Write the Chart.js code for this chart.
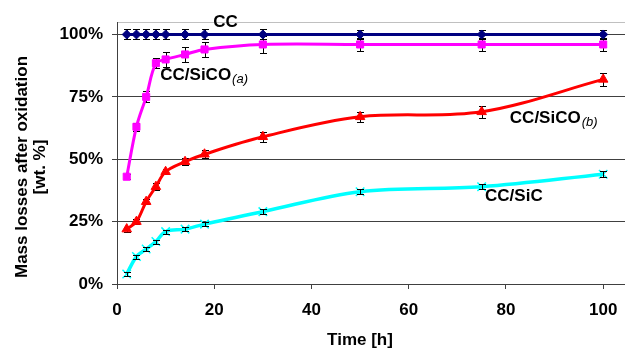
<!DOCTYPE html>
<html>
<head>
<meta charset="utf-8">
<script src="https://cdn.jsdelivr.net/npm/chart.js@4.4.1/dist/chart.umd.min.js"></script>
<style>
html,body{margin:0;padding:0;background:#fff;overflow:hidden;}
#wrap{position:absolute;left:0;top:0;width:635px;height:350px;}
</style>
</head>
<body>
<div id="wrap"><canvas id="c" width="635" height="350"></canvas></div>
<script>
// ---- data ----
const timeH = [2, 4, 6, 8, 10, 14, 18, 30, 50, 75, 100];
const xTicks = [0, 20, 40, 60, 80, 100];
const yTicks = [0, 25, 50, 75, 100];

const ccVals   = [100, 100, 100, 100, 100, 100, 100, 100, 100, 100, 100];
const ccErr    = [2, 2, 2, 2, 2, 2, 2, 2, 1.8, 1.8, 1.8];

const sicoAVals = [43, 63, 75, 88.5, 90, 92, 94, 96, 96, 96, 96];
const sicoAErr  = [1, 1.5, 2.2, 2, 2.9, 2.9, 3, 3.3, 2.5, 2.6, 2.6];

const sicoBVals = [22, 25, 33, 39, 45, 49, 52, 59, 67, 69, 82];
const sicoBErr  = [1, 1, 1.1, 1.3, 1.1, 1.3, 1.7, 2, 2.1, 2.3, 2.5];

const sicVals = [4, 11, 14, 17, 21, 22, 24, 29, 37, 39, 44];
const sicErr  = [0.8, 0.8, 0.8, 0.8, 0.8, 0.8, 0.8, 1, 1, 1, 1.2];

const seriesNames = ['CC', 'CC/SiCO', 'CC/SiCO', 'CC/SiC'];
const seriesSubs  = ['', '(a)', '(b)', ''];
// label anchor (data units: time, percent) for in-plot series labels
const labelAt = [[19.8, 103], [8.9, 81.8], [80.8, 64.4], [75.7, 33.4]];

const yTitle = ['Mass losses after oxidation', '[wt. %]'];
const xTitle = 'Time [h]';

const toXY = (xs, ys) => xs.map((x, i) => ({x: x, y: ys[i]}));
const errs = [ccErr, sicoAErr, sicoBErr, sicErr];

const FONT = '"Liberation Sans", Arial, sans-serif';

const errorBars = {
  id: 'errorBars',
  drawBars(chart, which) {
    const ctx = chart.ctx, xs = chart.scales.x, ys = chart.scales.y;
    ctx.save();
    ctx.strokeStyle = '#000';
    ctx.lineWidth = 1;
    chart.data.datasets.forEach((ds, di) => {
      if (!which(di)) return;
      ds.data.forEach((p, i) => {
        const e = errs[di][i];
        const px = Math.round(xs.getPixelForValue(p.x)) + 0.5;
        const y1 = Math.round(ys.getPixelForValue(p.y + e)) + 0.5;
        const y2 = Math.round(ys.getPixelForValue(p.y - e)) + 0.5;
        ctx.beginPath();
        ctx.moveTo(px, y1); ctx.lineTo(px, y2);
        ctx.moveTo(px - 3.5, y1); ctx.lineTo(px + 3.5, y1);
        ctx.moveTo(px - 3.5, y2); ctx.lineTo(px + 3.5, y2);
        ctx.stroke();
      });
    });
    ctx.restore();
  },
  beforeDatasetsDraw(chart) { this.drawBars(chart, di => di !== 3); },
  afterDatasetsDraw(chart) { this.drawBars(chart, di => di === 3); }
};

const textPlugin = {
  id: 'texts',
  afterDraw(chart) {
    const ctx = chart.ctx, xs = chart.scales.x, ys = chart.scales.y;
    ctx.save();
    ctx.fillStyle = '#000';
    // series labels
    seriesNames.forEach((name, i) => {
      const x = xs.getPixelForValue(labelAt[i][0]);
      const y = ys.getPixelForValue(labelAt[i][1]);
      ctx.font = 'bold 17px ' + FONT;
      ctx.textAlign = 'left';
      ctx.textBaseline = 'alphabetic';
      ctx.fillText(name, x, y);
      if (seriesSubs[i]) {
        const w = ctx.measureText(name).width;
        ctx.font = 'italic 13px ' + FONT;
        ctx.fillText(seriesSubs[i], x + w + 1, y + 3);
      }
    });
    // axis titles
    ctx.font = 'bold 17px ' + FONT;
    ctx.textAlign = 'center';
    ctx.textBaseline = 'middle';
    ctx.fillText(xTitle, 360, 340);
    ctx.translate(0, 167);
    ctx.rotate(-Math.PI / 2);
    ctx.fillText(yTitle[0], 0, 22);
    ctx.fillText(yTitle[1], 0, 40);
    ctx.restore();
  }
};

new Chart(document.getElementById('c'), {
  type: 'line',
  data: {
    datasets: [
      {
        label: 'CC', data: toXY(timeH, ccVals),
        borderColor: '#000080', backgroundColor: '#000080', borderWidth: 3,
        pointStyle: 'rectRot', pointRadius: 4.5, pointBorderWidth: 1,
        pointBackgroundColor: '#000080', pointBorderColor: '#000080', tension: 0.35
      },
      {
        label: 'CC/SiCO(a)', data: toXY(timeH, sicoAVals),
        borderColor: '#ff00ff', backgroundColor: '#ff00ff', borderWidth: 3,
        pointStyle: 'rect', pointRadius: 5, pointBorderWidth: 1,
        pointBackgroundColor: '#ff00ff', pointBorderColor: '#ff00ff', tension: 0.35
      },
      {
        label: 'CC/SiCO(b)', data: toXY(timeH, sicoBVals),
        borderColor: '#ff0000', backgroundColor: '#ff0000', borderWidth: 3,
        pointStyle: 'triangle', pointRadius: 5.5, pointBorderWidth: 1,
        pointBackgroundColor: '#ff0000', pointBorderColor: '#ff0000', tension: 0.35
      },
      {
        label: 'CC/SiC', data: toXY(timeH, sicVals),
        borderColor: '#00ffff', backgroundColor: '#00ffff', borderWidth: 3.5,
        pointStyle: 'crossRot', pointRadius: 6, pointBorderWidth: 1.5,
        pointBackgroundColor: '#00ffff', pointBorderColor: '#00ffff', tension: 0.35
      }
    ]
  },
  options: {
    responsive: false,
    devicePixelRatio: 1,
    animation: false,
    layout: {padding: {top: 22, right: 0, bottom: 0, left: 0}},
    plugins: {legend: {display: false}, tooltip: {enabled: false}},
    scales: {
      x: {
        type: 'linear', min: 0, max: 105,
        afterBuildTicks: s => { s.ticks = xTicks.map(v => ({value: v})); },
        afterFit: s => { s.height = 66; },
        grid: {drawOnChartArea: false, drawTicks: true, tickLength: 5, color: '#404040', lineWidth: 1},
        border: {display: true, color: '#404040', width: 1},
        ticks: {color: '#000', font: {family: FONT, size: 17, weight: 'bold'}, padding: 11, maxRotation: 0}
      },
      y: {
        type: 'linear', min: 0, max: 105,
        afterBuildTicks: s => { s.ticks = yTicks.concat([105]).map(v => ({value: v})); },
        afterFit: s => { s.width = 117; },
        grid: {
          drawTicks: true, tickLength: 5, lineWidth: 1,
          color: c => (c.tick && c.tick.value === 105) ? '#c0c0c0' : '#404040',
          tickColor: c => (c.tick && c.tick.value === 105) ? 'rgba(0,0,0,0)' : '#404040'
        },
        border: {display: true, color: '#404040', width: 1},
        ticks: {
          color: '#000', font: {family: FONT, size: 17, weight: 'bold'}, padding: 9,
          callback: v => v === 105 ? '' : v + '%'
        }
      }
    }
  },
  plugins: [errorBars, textPlugin]
});
</script>
</body>
</html>
